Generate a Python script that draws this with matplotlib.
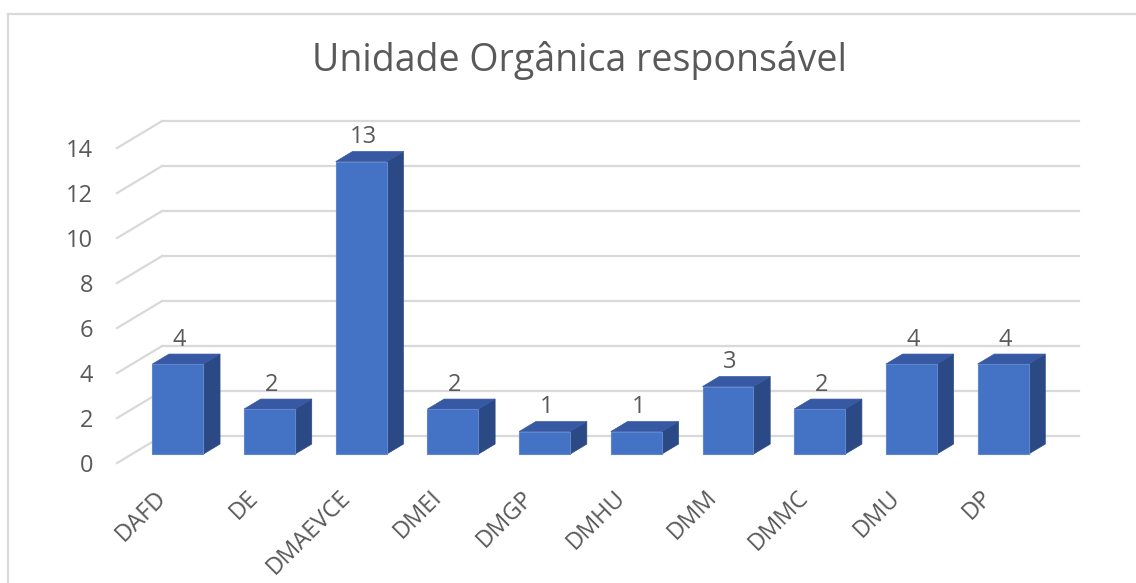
import matplotlib.pyplot as plt
from matplotlib.patches import Polygon
from matplotlib.lines import Line2D

plt.rcParams['font.family'] = ['Open Sans', 'DejaVu Sans']

categories = ['DAFD', 'DE', 'DMAEVCE', 'DMEI', 'DMGP', 'DMHU', 'DMM', 'DMMC', 'DMU', 'DP']
values = [4, 2, 13, 2, 1, 1, 3, 2, 4, 4]
y_ticks = [0, 2, 4, 6, 8, 10, 12, 14]
title = 'Unidade Orgânica responsável'

# oblique projection: depth 0 = back wall, depth 1 = front edge
DX, DY = -0.491, -1.2
bar_w = 0.556
z_front, z_back = 0.667, 0.296

front_col = '#4472C4'
top_col = '#3758A3'
side_col = '#2B4A85'
grid_col = '#D9D9D9'
text_col = '#595959'


def proj(x, y, z):
    return (x + DX * z, y + DY * z)


fig = plt.figure(figsize=(11.36, 5.83), dpi=100)
ax = fig.add_axes([0, 0, 1, 1])
ax.set_xlim(-1.767, 10.622)
ax.set_ylim(-6.53, 19.38)
ax.axis('off')

# chart border (top and left visible)
fig.add_artist(Line2D([8 / 1136, 8 / 1136], [0, 1 - 14 / 583], transform=fig.transFigure,
                      color=grid_col, lw=1.6))
fig.add_artist(Line2D([8 / 1136, 1], [1 - 14 / 583, 1 - 14 / 583], transform=fig.transFigure,
                      color=grid_col, lw=1.6))

# gridlines: back wall + side wall diagonals
n = len(categories)
for t in y_ticks:
    ax.plot([0, n], [t, t], color=grid_col, lw=1.6, zorder=1)
    x0, y0 = proj(0, t, 0)
    x1, y1 = proj(0, t, 1)
    ax.plot([x0, x1], [y0, y1], color=grid_col, lw=1.6, zorder=1)
    ax.text(x1 - 0.26, y1 - 0.12, str(t), ha='right', va='center', fontsize=17, color=text_col)

for i, v in enumerate(values):
    xl = i + 0.5 - bar_w / 2
    xr = i + 0.5 + bar_w / 2
    # front face
    front = [proj(xl, 0, z_front), proj(xr, 0, z_front), proj(xr, v, z_front), proj(xl, v, z_front)]
    side = [proj(xr, 0, z_front), proj(xr, 0, z_back), proj(xr, v, z_back), proj(xr, v, z_front)]
    top = [proj(xl, v, z_front), proj(xr, v, z_front), proj(xr, v, z_back), proj(xl, v, z_back)]
    ax.add_patch(Polygon(side, closed=True, facecolor=side_col, edgecolor=side_col, lw=0.5, zorder=3))
    ax.add_patch(Polygon(top, closed=True, facecolor=top_col, edgecolor=top_col, lw=0.5, zorder=3))
    ax.add_patch(Polygon(front, closed=True, facecolor=front_col, edgecolor='#5F86CC', lw=0.8, zorder=4))
    # value label
    lx, _ = proj(i + 0.5 + 0.02, v, z_front)
    _, ly = proj(i + 0.5, v, z_back)
    ax.text(lx, ly + 0.1, str(v), ha='center', va='bottom', fontsize=17, color=text_col, zorder=5)
    # category label
    cx, cy = proj(i + 0.5, 0, z_front)
    ax.text(cx - 0.25, cy - 1.4, categories[i], ha='right', va='top', rotation=45,
            rotation_mode='anchor', fontsize=17, color=text_col)

fig.text(580 / 1136, 1 - 61 / 583, title, ha='center', va='center', fontsize=27, color=text_col)

fig.savefig('out.png', dpi=100)
